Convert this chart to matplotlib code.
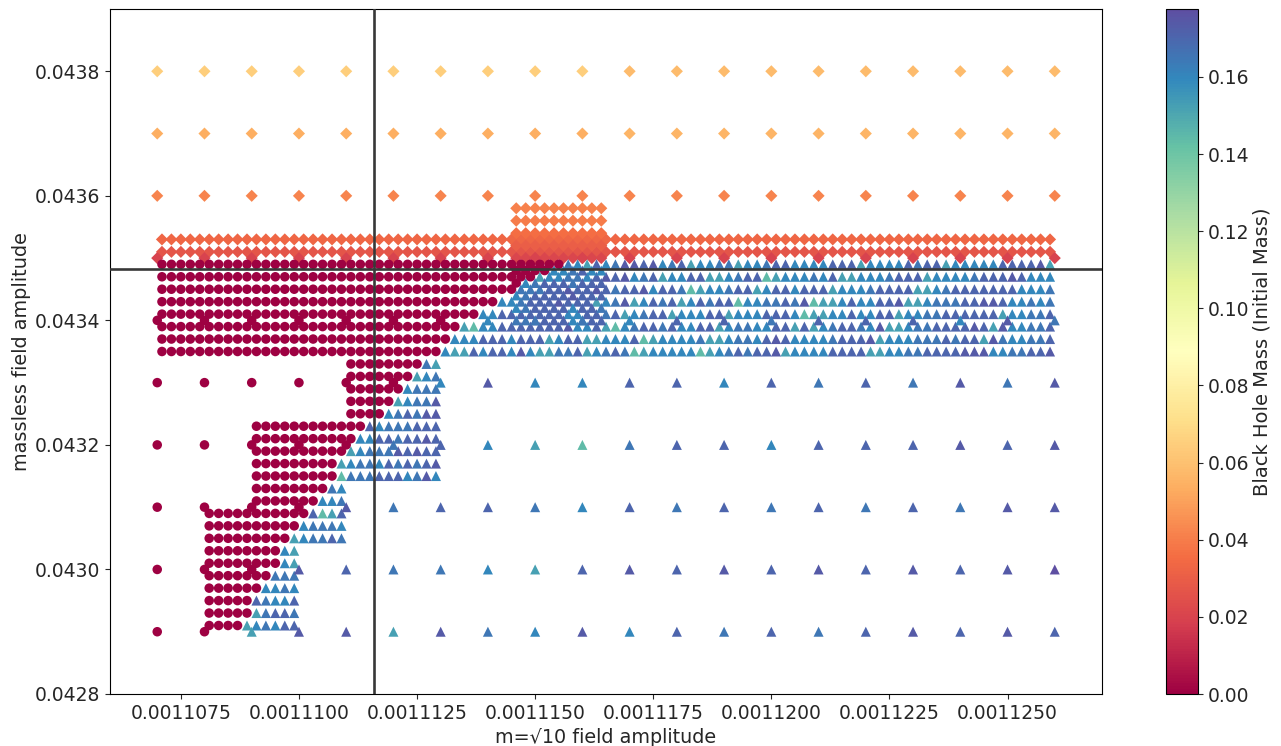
import matplotlib
matplotlib.use("Agg")
import matplotlib.pyplot as plt
from matplotlib.cm import ScalarMappable
from matplotlib.colors import Normalize
from matplotlib.ticker import FormatStrFormatter

# grid of m=sqrt(10) amplitudes, all in units of 1e-3
coarse_x = [1.107, 1.108, 1.109, 1.110, 1.111, 1.112, 1.113, 1.114, 1.115, 1.116,
            1.117, 1.118, 1.119, 1.120, 1.121, 1.122, 1.123, 1.124, 1.125, 1.126]
fine_x = [1.1071, 1.1073, 1.1075, 1.1077, 1.1079, 1.1081, 1.1083, 1.1085, 1.1087, 1.1089,
          1.1091, 1.1093, 1.1095, 1.1097, 1.1099, 1.1101, 1.1103, 1.1105, 1.1107, 1.1109,
          1.1111, 1.1113, 1.1115, 1.1117, 1.1119, 1.1121, 1.1123, 1.1125, 1.1127, 1.1129,
          1.1131, 1.1133, 1.1135, 1.1137, 1.1139, 1.1141, 1.1143, 1.1145, 1.1147, 1.1149,
          1.1151, 1.1153, 1.1155, 1.1157, 1.1159, 1.1161, 1.1163, 1.1165, 1.1167, 1.1169,
          1.1171, 1.1173, 1.1175, 1.1177, 1.1179, 1.1181, 1.1183, 1.1185, 1.1187, 1.1189,
          1.1191, 1.1193, 1.1195, 1.1197, 1.1199, 1.1201, 1.1203, 1.1205, 1.1207, 1.1209,
          1.1211, 1.1213, 1.1215, 1.1217, 1.1219, 1.1221, 1.1223, 1.1225, 1.1227, 1.1229,
          1.1231, 1.1233, 1.1235, 1.1237, 1.1239, 1.1241, 1.1243, 1.1245, 1.1247, 1.1249,
          1.1251, 1.1253, 1.1255, 1.1257, 1.1259]
dense_x = [1.1146, 1.1148, 1.1150, 1.1152, 1.1154, 1.1156, 1.1158, 1.1160, 1.1162, 1.1164]

# black hole mass, one letter per triangle
mass_code = {"g": 0.144, "t": 0.152, "c": 0.160, "b": 0.165, "n": 0.170, "i": 0.174, "p": 0.177}

# triangles and circles on the fine grid:
# (massless amplitude, first circle index, last circle index, triangle masses after it)
fine_rows = [
    (0.04349, 0, 42, "bctn" "cbiinicbntccbbtccbnnc" "cccnnntccccnbnntcccccnnnnit"),
    (0.04347, 0, 39, "tccbbcn" "inicbntccnnttcbnngtcc" "cbcnttcccbnnntccccbnnnincc" "c"),
    (0.04345, 0, 37, "bbbnninni" "nbnnicnnbgtccbnntcnnc" "nnntcccbnnnnttcbnnnnnnncccb"),
    (0.04343, 0, 35, "ccbnnninnnt" "cbitcnbntcnbnngccbbnb" "igttcnccnnittcbbbnniinccbcb"),
    (0.04341, 0, 33, "ccnnnnnnnccnn" "bntcbnntcccnntcccnnnc" "gttccnccnntccbbnnnnnntccbbn"),
    (0.04339, 0, 31, "tgccnnnnnnniccn" "tgcbnnbnccnntcbbccnnt" "ntcbnnbcittcbbnnnninticcbbn"),
    (0.04337, 0, 30, "cccnnncnnntcnntt" "cccngtccccbttcbbcninc" "cccbnnnitcccbbbnbnntibccbbn"),
    (0.04335, 0, 29, "cttncnncicttbbntc" "bnbgtcccccgtcbnbnnitc" "cccnnnnttccbbnnnniiiccbbnni"),
    (0.04333, 20, 27, "bt"),
    (0.04331, 20, 26, "tcb"),
    (0.04329, 20, 25, "cbbb"),
    (0.04327, 20, 24, "tcbbi"),
    (0.04325, 20, 23, "cbnbii"),
    (0.04323, 10, 21, "ncbbbnnn"),
    (0.04321, 10, 20, "ccnnbnnin"),
    (0.04319, 10, 19, "tcbbbininn"),
    (0.04317, 10, 18, "tcbbcnbnbni"),
    (0.04315, 10, 18, "gbbbnnncbic"),
    (0.04313, 10, 17, "bc"),
    (0.04311, 10, 16, "ccb"),
    (0.04309, 5, 15, "ngtn"),
    (0.04307, 5, 14, "cbbbc"),
    (0.04305, 5, 13, "tcbbnb"),
    (0.04303, 5, 12, "ct"),
    (0.04301, 5, 12, "ct"),
    (0.04299, 5, 11, "bbb"),
    (0.04297, 5, 10, "ccbc"),
    (0.04295, 5, 9, "nbccn"),
    (0.04293, 5, 9, "tbnnb"),
    (0.04291, 5, 8, "tcbcnn"),
]

# rows between the fine ones, only around 0.001115: (amplitude, circles, triangle masses)
dense_rows = [
    (0.04348, 4, "ccbncc"),
    (0.04346, 1, "cbnnnbnnn"),
    (0.04344, 0, "cbnnnninnn"),
    (0.04342, 0, "cbnnnncnnb"),
    (0.04340, 0, "bbnnnnccnn"),
]

# coarse rows that split: (amplitude, circles, triangle masses)
coarse_rows = [
    (0.0434, 7, "cbbcnnbnnncib"),
    (0.0433, 6, "ciccnncnbnbibi"),
    (0.0432, 5, "bnctgbnncnnnini"),
    (0.0431, 4, "ibnnbcnbnbnbnbii"),
    (0.0430, 3, "inbbctnininininip"),
    (0.0429, 2, "tiitibcicnbnbninin"),
]

# diamonds, mass per row
coarse_diamonds_y = [0.0438, 0.0437, 0.0436, 0.0435]
coarse_diamonds_left = [0.065, 0.054, 0.042, 0.020]
coarse_diamonds_right = [0.058, 0.056, 0.042, 0.020]
fine_diamonds_y = [0.04353, 0.04351]
fine_diamonds_mass = [0.033, 0.027]
dense_diamonds_y = [0.04358, 0.04356, 0.04354, 0.04352, 0.04350]
dense_diamonds_mass = [0.041, 0.040, 0.036, 0.030, 0.021]

# the two reference lines
m_line = 1.11159e-3
massless_line = 0.043482

x_ticks = [1.1075e-3, 1.11e-3, 1.1125e-3, 1.115e-3, 1.1175e-3, 1.12e-3, 1.1225e-3, 1.125e-3]
y_ticks = [0.0428, 0.0430, 0.0432, 0.0434, 0.0436, 0.0438]
bar_ticks = [0.0, 0.02, 0.04, 0.06, 0.08, 0.10, 0.12, 0.14, 0.16]
mass_max = 0.1776

# sort everything into the three black hole outcomes
tri_x, tri_y, tri_m = [], [], []
circ_x, circ_y = [], []

for y, first, last, masses in fine_rows:
    for k in range(first, last + 1):
        circ_x.append(fine_x[k] * 1e-3)
        circ_y.append(y)
    for i, letter in enumerate(masses):
        tri_x.append(fine_x[last + 1 + i] * 1e-3)
        tri_y.append(y)
        tri_m.append(mass_code[letter])

for y, n_circles, masses in dense_rows:
    for x in dense_x[:n_circles]:
        circ_x.append(x * 1e-3)
        circ_y.append(y)
    for x, letter in zip(dense_x[n_circles:], masses):
        tri_x.append(x * 1e-3)
        tri_y.append(y)
        tri_m.append(mass_code[letter])

coarse_tx, coarse_ty, coarse_tm = [], [], []
for y, n_circles, masses in coarse_rows:
    for x in coarse_x[:n_circles]:
        circ_x.append(x * 1e-3)
        circ_y.append(y)
    for x, letter in zip(coarse_x[n_circles:], masses):
        coarse_tx.append(x * 1e-3)
        coarse_ty.append(y)
        coarse_tm.append(mass_code[letter])

fig = plt.figure(figsize=(12.81, 7.46), dpi=100)
ax = fig.add_axes([110 / 1281, 1 - 694 / 746, 992 / 1281, 685 / 746])
cax = fig.add_axes([1166 / 1281, 1 - 694 / 746, 32 / 1281, 685 / 746])

norm = Normalize(vmin=0, vmax=mass_max)
cmap = plt.cm.Spectral
style_d = dict(marker="D", s=38, cmap=cmap, norm=norm, linewidths=0)
style_t = dict(marker="^", s=52, cmap=cmap, norm=norm, linewidths=0)

# fine diamonds first, the coarse ones sit on top of them
for y, m in zip(fine_diamonds_y, fine_diamonds_mass):
    ax.scatter([x * 1e-3 for x in fine_x], [y] * len(fine_x), c=[m] * len(fine_x), zorder=2, **style_d)
for y, m in zip(dense_diamonds_y, dense_diamonds_mass):
    ax.scatter([x * 1e-3 for x in dense_x], [y] * len(dense_x), c=[m] * len(dense_x), zorder=2, **style_d)

ax.scatter(tri_x, tri_y, c=tri_m, zorder=3, **style_t)

for y, left, right in zip(coarse_diamonds_y, coarse_diamonds_left, coarse_diamonds_right):
    masses = [left if x <= 1.1165 else right for x in coarse_x]
    ax.scatter([x * 1e-3 for x in coarse_x], [y] * len(coarse_x), c=masses, zorder=4, **style_d)

ax.scatter(coarse_tx, coarse_ty, c=coarse_tm, zorder=4, **style_t)
ax.scatter(circ_x, circ_y, c=[0.0] * len(circ_x), marker="o", s=47, cmap=cmap, norm=norm,
           linewidths=0, zorder=5)

ax.axvline(m_line, color="#383838", lw=1.9, zorder=6)
ax.axhline(massless_line, color="#383838", lw=1.9, zorder=6)

ax.set_xlim(0.001106, 0.001127)
ax.set_ylim(0.0428, 0.0439)
ax.set_xticks(x_ticks)
ax.set_yticks(y_ticks)
ax.xaxis.set_major_formatter(FormatStrFormatter("%.7f"))
ax.yaxis.set_major_formatter(FormatStrFormatter("%.4f"))
ax.tick_params(labelsize=13.5, colors="#262626")
ax.set_xlabel("m=√10 field amplitude", fontsize=13.8, labelpad=4, color="#262626")
ax.set_ylabel("massless field amplitude", fontsize=13.9, labelpad=3, color="#262626")

cb = fig.colorbar(ScalarMappable(norm=norm, cmap=cmap), cax=cax)
cb.set_ticks(bar_ticks)
cb.ax.yaxis.set_major_formatter(FormatStrFormatter("%.2f"))
cb.ax.tick_params(labelsize=13.5, colors="#262626")
cb.set_label("Black Hole Mass (Initial Mass)", fontsize=14, labelpad=2, color="#262626")

fig.savefig("out.png", dpi=100)
